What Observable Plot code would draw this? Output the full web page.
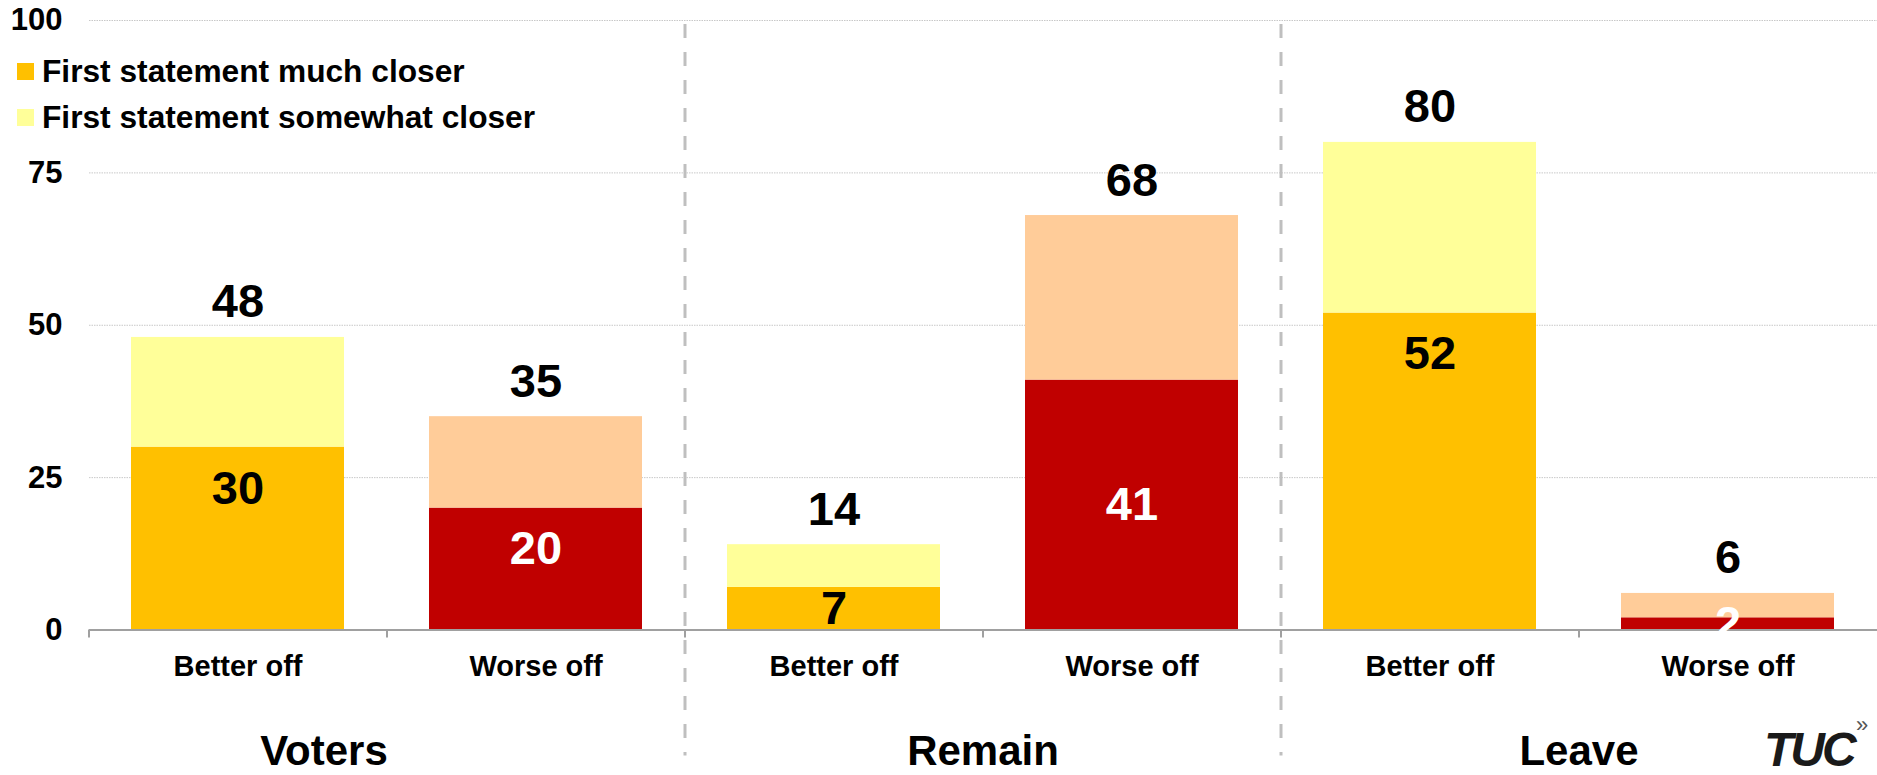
<!DOCTYPE html>
<html><head><meta charset="utf-8">
<script src="https://cdn.jsdelivr.net/npm/d3@7"></script>
<script src="https://cdn.jsdelivr.net/npm/@observablehq/plot@0.6"></script>
<style>
body{margin:0;background:#fff;font-family:"Liberation Sans",Arial,sans-serif;}
#wrap{position:relative;width:1877px;height:775px;overflow:hidden;background:#fff;}
#legend{position:absolute;left:17px;top:48px;font-weight:bold;font-size:31.7px;line-height:46px;color:#000;}
.row{display:flex;align-items:center;height:46px;white-space:nowrap;}
.sw{width:17px;height:17px;margin-right:8px;display:inline-block;}
#logo{position:absolute;left:1764px;top:726px;font-style:italic;font-weight:bold;font-size:48px;line-height:1;letter-spacing:-3px;color:#1a1a1a;}
#logo2{position:absolute;left:1856px;top:714px;font-size:22px;line-height:1;color:#555;}
</style></head>
<body><div id="wrap"><div id="chart"></div><div id="legend"></div><div id="logo">TUC</div><div id="logo2">»</div></div>
<script>
// ---- data ----
const groups = ["Voters", "Remain", "Leave"];
const outcomes = ["Better off", "Worse off"];
const muchCloser = [30, 20, 7, 41, 52, 2];     // lower segment values
const totals = [48, 35, 14, 68, 80, 6];        // stacked totals
const seriesNames = ["First statement much closer", "First statement somewhat closer"];
const yTicks = [0, 25, 50, 75, 100];
// ---- styling ----
const palette = {"Better off": ["#FFC000", "#FFFF99"], "Worse off": ["#C00000", "#FFCC99"]};
const labelPlacement = ["end", "end", "center", "center", "end", "center"];

const cats = groups.flatMap(g => outcomes.map(o => g + "|" + o));
const rows = cats.flatMap((c, i) => {
  const o = c.split("|")[1];
  return [
    {cat: c, series: seriesNames[0], value: muchCloser[i], fill: palette[o][0]},
    {cat: c, series: seriesNames[1], value: totals[i] - muchCloser[i], fill: palette[o][1]}
  ];
});
const labels = cats.map((c, i) => ({cat: c, outcome: c.split("|")[1], much: muchCloser[i], total: totals[i], place: labelPlacement[i]}));

const W = 1877, H = 775, ML = 89, MR = 0, MT = 20, MB = 145.5;
const step = (W - ML - MR) / cats.length;
const font = "Liberation Sans, Arial, Helvetica, sans-serif";

const chart = Plot.plot({
  width: W, height: H,
  marginLeft: ML, marginRight: MR, marginTop: MT, marginBottom: MB,
  style: {fontFamily: font, fontWeight: "bold", background: "white", overflow: "visible", color: "black"},
  x: {type: "band", domain: cats, paddingInner: 0.285, paddingOuter: 0.1425, axis: null},
  y: {domain: [0, 100], axis: null},
  color: {type: "identity"},
  marks: [
    Plot.gridY(yTicks.filter(d => d > 0), {stroke: "#c8c8c8", strokeOpacity: 1, strokeWidth: 1, strokeDasharray: "1.5,1"}),
    Plot.axisY(yTicks, {tickSize: 0, tickPadding: 27, fontSize: 31, fontWeight: "bold", label: null}),
    Plot.barY(rows, {x: "cat", y: "value", fill: "fill"}),
    Plot.ruleY([0], {stroke: "#a0a0a0", strokeWidth: 2}),
    Plot.ruleX(cats, {x: d => d, dx: -step / 2, y1: 0, y2: 0, insetBottom: -8, stroke: "#a0a0a0", strokeWidth: 2}),
    Plot.ruleX([cats[2], cats[4]], {x: d => d, dx: -step / 2, y1: 100, y2: 0, insetTop: 4, insetBottom: -126, stroke: "#bfbfbf", strokeWidth: 3, strokeDasharray: "14,14"}),
    Plot.axisX(cats, {anchor: "bottom", tickSize: 0, tickPadding: 25.5, tickFormat: d => d.split("|")[1], fontSize: 29, fontWeight: "bold", label: null}),
    Plot.text(labels, {x: "cat", y: "total", text: d => String(d.total), lineAnchor: "bottom", dy: -20, fontSize: 47, fontWeight: "bold", fill: "black"}),
    Plot.text(labels.filter(d => d.place === "end"), {x: "cat", y: "much", text: d => String(d.much), lineAnchor: "top", dy: 23, fontSize: 47, fontWeight: "bold", fill: d => d.outcome === "Worse off" ? "white" : "black"}),
    Plot.text(labels.filter(d => d.place === "center"), {x: "cat", y: d => d.much / 2, text: d => String(d.much), lineAnchor: "middle", fontSize: 47, fontWeight: "bold", fill: d => d.outcome === "Worse off" ? "white" : "black"}),
    Plot.text(groups.slice(0, 1), {x: g => g + "|Worse off", y: 0, dx: -step / 2 - 63, dy: 105.5, lineAnchor: "top", text: d => d, fontSize: 42, fontWeight: "bold", fill: "black"}),
    Plot.text(groups.slice(1), {x: g => g + "|Worse off", y: 0, dx: -step / 2, dy: 105.5, lineAnchor: "top", text: d => d, fontSize: 42, fontWeight: "bold", fill: "black"})
  ]
});
document.getElementById("chart").appendChild(chart);

const legend = document.getElementById("legend");
seriesNames.forEach((name, i) => {
  const row = document.createElement("div");
  row.className = "row";
  const sw = document.createElement("span");
  sw.className = "sw";
  sw.style.background = palette["Better off"][i];
  const t = document.createElement("span");
  t.textContent = name;
  row.appendChild(sw); row.appendChild(t);
  legend.appendChild(row);
});
</script>
</body></html>
